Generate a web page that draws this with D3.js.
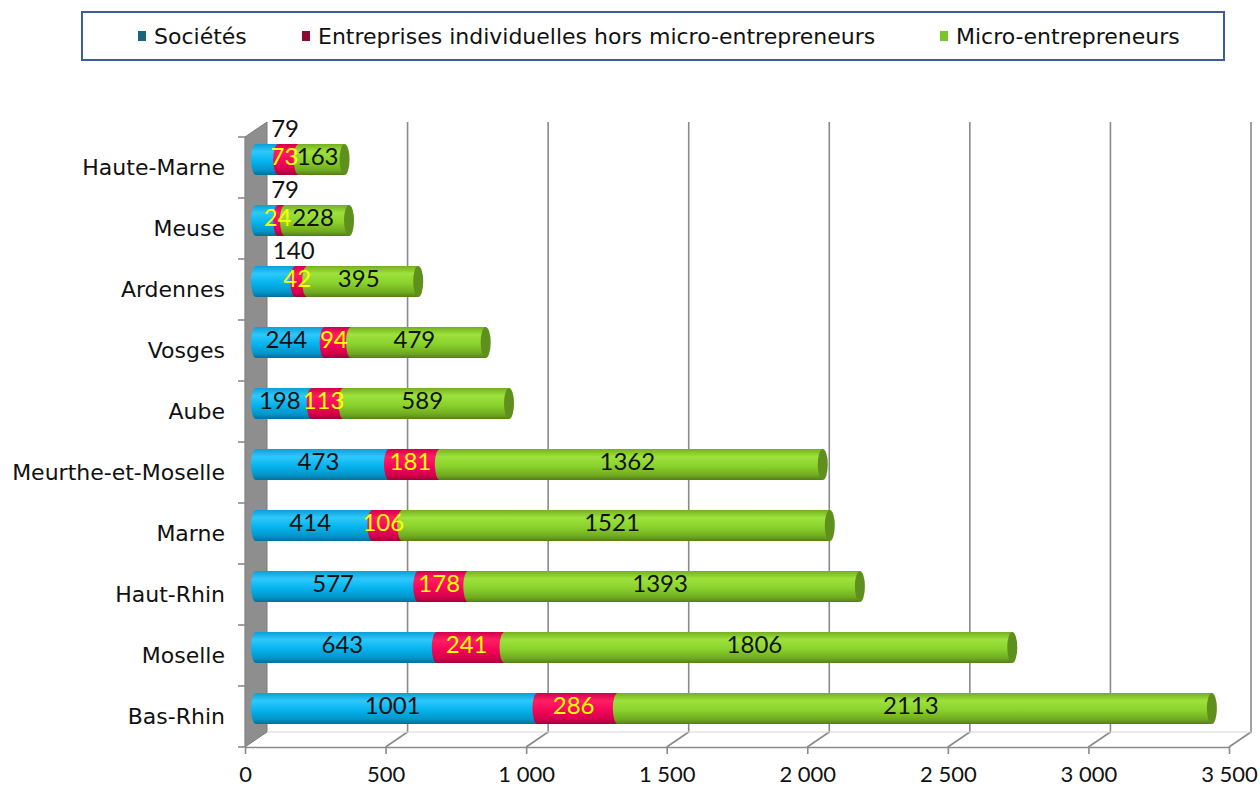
<!DOCTYPE html>
<html><head><meta charset="utf-8">
<script src="https://cdn.jsdelivr.net/npm/d3@7"></script>
<style>
html,body{margin:0;padding:0;background:#fff;}
svg{display:block;}
</style></head>
<body>
<svg id="chart" width="1260" height="789"></svg>
<script>
// ---- data ----
const categories = ["Haute-Marne","Meuse","Ardennes","Vosges","Aube","Meurthe-et-Moselle","Marne","Haut-Rhin","Moselle","Bas-Rhin"];
const societes = [79,79,140,244,198,473,414,577,643,1001];
const entreprisesIndiv = [73,24,42,94,113,181,106,178,241,286];
const microEntrepreneurs = [163,228,395,479,589,1362,1521,1393,1806,2113];
const seriesNames = ["Sociétés","Entreprises individuelles hors micro-entrepreneurs","Micro-entrepreneurs"];
const tickValues = [0,500,1000,1500,2000,2500,3000,3500];
const tickLabels = ["0","500","1 000","1 500","2 000","2 500","3 000","3 500"];

// ---- layout ----
const svg = d3.select("#chart");
const depthX = 22, depthY = -15;
const sx = d3.scaleLinear().domain([0,3500]).range([245,1229]);
const sy = d3.scaleBand().domain(categories).range([137,747]).padding(0);
const floorY = 747;
const barR = 15.5, capRx = 5;
const barDX = 11, barDY = -8;

const defs = svg.append("defs");
function grad(id, stops){
  const g = defs.append("linearGradient").attr("id",id).attr("x1",0).attr("y1",0).attr("x2",0).attr("y2",1);
  stops.forEach(([o,c])=>g.append("stop").attr("offset",o).attr("stop-color",c));
}
grad("gBlue",[[0,"#0a9fd8"],[0.25,"#2fc8fb"],[0.55,"#05b4ee"],[0.85,"#0394c8"],[1,"#046f98"]]);
grad("gRed",[[0,"#d0004a"],[0.25,"#ff1f63"],[0.55,"#f5065a"],[0.85,"#d4004c"],[1,"#a00036"]]);
grad("gGreen",[[0,"#74b020"],[0.25,"#9ee23c"],[0.55,"#8ad22c"],[0.85,"#70aa20"],[1,"#557f16"]]);
const fills = ["url(#gBlue)","url(#gRed)","url(#gGreen)"];

// ---- legend ----
const leg = svg.append("g");
leg.append("rect").attr("x",82).attr("y",12).attr("width",1142).attr("height",48)
  .attr("fill","#fff").attr("stroke","#3b5c98").attr("stroke-width",2);
const legX = [138,302,940];
const legColors = ["#17657f","#8b0a30","#7cc42c"];
seriesNames.forEach((n,i)=>{
  leg.append("rect").attr("x",legX[i]).attr("y",31).attr("width",8).attr("height",10).attr("fill",legColors[i]);
  leg.append("text").attr("x",legX[i]+16).attr("y",36).attr("dominant-baseline","central")
    .attr("font-family","DejaVu Sans").attr("font-size",22).attr("fill","#111").text(n);
});

// ---- walls / grid ----
const grid = svg.append("g");
const yTop = sy.range()[0];
grid.append("path")
  .attr("d",`M${sx(0)},${yTop} L${sx(0)+depthX},${yTop+depthY} L${sx(0)+depthX},${floorY+depthY} L${sx(0)},${floorY} Z`)
  .attr("fill","#8e8e8e").attr("stroke","#7a7a7a").attr("stroke-width",1);
tickValues.filter(v=>v>0).forEach(v=>{
  const xb = sx(v)+depthX;
  grid.append("path")
    .attr("d",`M${xb},${yTop+depthY} L${xb},${floorY+depthY} L${sx(v)},${floorY}`)
    .attr("fill","none").attr("stroke","#8a8a8a").attr("stroke-width",1.6);
});
grid.append("line").attr("x1",sx(0)+depthX).attr("x2",sx(3500)+depthX)
  .attr("y1",floorY+depthY).attr("y2",floorY+depthY).attr("stroke","#d8d8d8").attr("stroke-width",1);

// bottom axis
const xAxis = d3.axisBottom(sx).tickValues(tickValues).tickFormat((d,i)=>tickLabels[i]).tickSize(7).tickSizeOuter(0).tickPadding(12);
const gx = svg.append("g").attr("transform",`translate(0,${floorY})`).call(xAxis);
gx.select(".domain").attr("stroke","#8a8a8a").attr("stroke-width",1.6);
gx.selectAll(".tick line").attr("stroke","#8a8a8a").attr("stroke-width",1.6);
gx.selectAll(".tick text").attr("font-family","Lato").attr("font-size",22).attr("fill","#111");

// left axis
const yAxis = d3.axisLeft(sy).tickSize(0).tickPadding(20);
const gy = svg.append("g").attr("transform",`translate(${sx(0)},0)`).call(yAxis);
gy.select(".domain").attr("stroke","#8a8a8a").attr("stroke-width",1.6);
gy.selectAll(".tick text").attr("font-family","DejaVu Sans").attr("font-size",22).attr("fill","#111");
const bounds = categories.map(c=>sy(c)).concat([sy.range()[1]]);
svg.append("g").selectAll("line").data(bounds).join("line")
  .attr("x1",sx(0)-7).attr("x2",sx(0)).attr("y1",d=>d).attr("y2",d=>d)
  .attr("stroke","#8a8a8a").attr("stroke-width",1.6);

// ---- bars ----
const bars = svg.append("g");
const labels = svg.append("g");
categories.forEach((c,i)=>{
  const vals = [societes[i],entreprisesIndiv[i],microEntrepreneurs[i]];
  const cy = sy(c)+sy.bandwidth()/2+barDY;
  let cum = 0;
  const segs = vals.map(v=>{const s={x0:sx(cum)+barDX,x1:sx(cum+v)+barDX,v}; cum+=v; return s;});
  segs.forEach((s,k)=>{
    const g = bars.append("g");
    g.append("rect").attr("x",s.x0).attr("y",cy-barR).attr("width",s.x1-s.x0).attr("height",barR*2).attr("fill",fills[k]);
    g.append("ellipse").attr("cx",s.x0).attr("cy",cy).attr("rx",capRx).attr("ry",barR).attr("fill",fills[k]);
    if(k===2){
      g.append("ellipse").attr("cx",s.x1).attr("cy",cy).attr("rx",capRx).attr("ry",barR).attr("fill","#5f8f1c");
    }
  });
  const colors = ["#111","#ffff00","#111"];
  segs.forEach((s,k)=>{
    let lx = (s.x0+s.x1)/2-4, ly = cy-4;
    if(k===0 && s.v<150){ lx = (s.x0+s.x1)/2+18; ly = cy-32; }
    labels.append("text").attr("x",lx).attr("y",ly).attr("text-anchor","middle").attr("dominant-baseline","central")
      .attr("font-family","Lato").attr("font-size",24).attr("fill",colors[k]).text(s.v);
  });
});
</script>
</body></html>
